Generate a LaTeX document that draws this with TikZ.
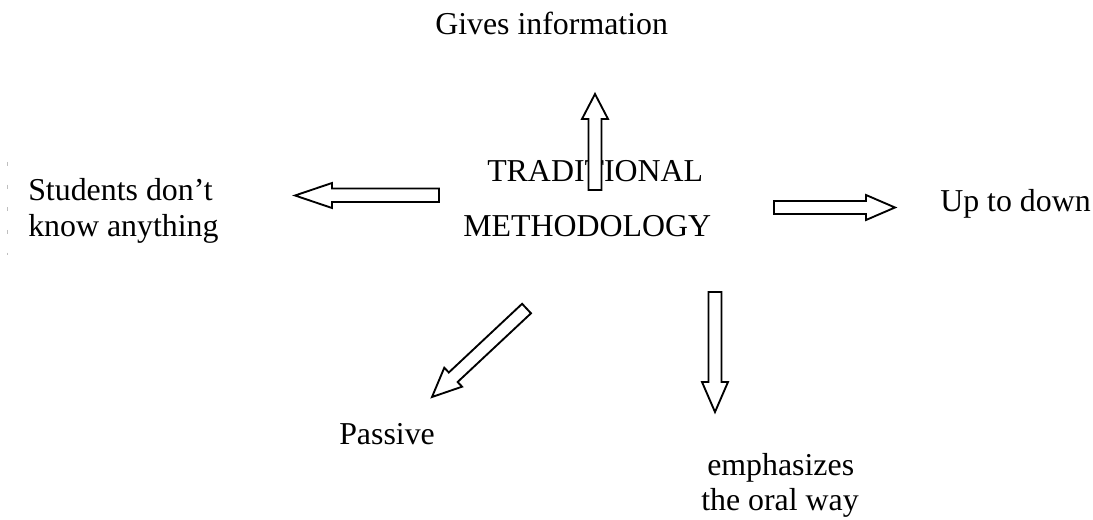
\documentclass[tikz,border=0pt]{standalone}
\usepackage{fontspec}
\setmainfont{Liberation Serif}
\begin{document}
\begin{tikzpicture}[x=0.75pt,y=-0.75pt,
  lbl/.style={inner sep=0pt,anchor=base west,font=\fontsize{23.9pt}{28pt}\selectfont},
  blockarrow/.style={draw=black,fill=white,line width=1.4pt,line join=miter}]
\useasboundingbox (0,0) rectangle (1093,520);
% faint text-box edge
\draw[black!25,line width=0.6pt,dash pattern=on 3pt off 14pt] (7,162) -- (7,255);
% labels
\node[lbl] (gives) at (435,35) {Gives information};
\node[lbl] (trad) at (487,182) {TRADITIONAL};
\node[lbl] (meth) at (463,237) {METHODOLOGY};
\node[lbl] (stud1) at (28,201) {Students don’t};
\node[lbl] (stud2) at (28,237) {know anything};
\node[lbl] (updown) at (940,212) {Up to down};
\node[lbl] (passive) at (339,445) {Passive};
\node[lbl] (emph1) at (707,475) {emphasizes};
\node[lbl] (emph2) at (701,510) {the oral way};
% up arrow
\draw[blockarrow] (588.5,190) -- (588.5,119) -- (582,119) -- (595,94) -- (608,119) -- (601.5,119) -- (601.5,190) -- cycle;
% left arrow
\draw[blockarrow] (439,188.5) -- (332,188.5) -- (332,183) -- (295,195.5) -- (332,208) -- (332,202) -- (439,202) -- cycle;
% right arrow
\draw[blockarrow] (774,201) -- (866,201) -- (866,195) -- (895,207.5) -- (866,220) -- (866,214) -- (774,214) -- cycle;
% down arrow
\draw[blockarrow] (708.5,292) -- (708.5,382) -- (702,382) -- (715,412) -- (728,382) -- (721.5,382) -- (721.5,292) -- cycle;
% diagonal arrow
\draw[blockarrow] (531,313.3) -- (457.6,382.0) -- (462.1,386.7) -- (432,397) -- (444.3,367.7) -- (448.8,372.5) -- (522.1,303.8) -- cycle;
\end{tikzpicture}
\end{document}
